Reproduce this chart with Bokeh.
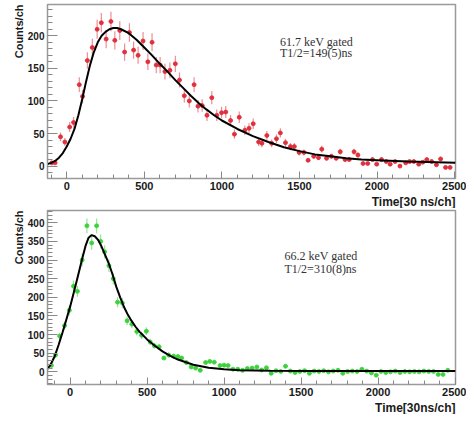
import numpy as np
from bokeh.plotting import figure
from bokeh.layouts import column
from bokeh.models import ColumnDataSource, Range1d, SingleIntervalTicker, Title, Label
from bokeh.embed import file_html
from bokeh.resources import INLINE

# ---------------- data: top panel (61.7 keV gated) ----------------
top_x = [-96, -75, -40, -12, 19, 44, 81, 102, 133, 165, 196, 223, 254, 285, 310, 342,
         373, 404, 431, 460, 492, 523, 550, 577, 602, 633, 665, 700, 727, 758, 790, 821,
         846, 873, 904, 935, 967, 998, 1025, 1056, 1081, 1112, 1148, 1175, 1202, 1237,
         1258, 1290, 1321, 1352, 1377, 1410, 1442, 1467, 1498, 1529, 1556, 1592, 1623,
         1644, 1675, 1706, 1737, 1763, 1794, 1821, 1852, 1877, 1910, 1940, 1971, 1998,
         2029, 2060, 2085, 2117, 2148, 2185, 2210, 2237, 2269, 2295, 2321, 2352, 2383,
         2410, 2442, 2471]
top_y = [5, 5, 45, 37, 60, 67, 125, 107, 162, 182, 210, 220, 195, 222, 193, 208,
         175, 205, 178, 170, 192, 160, 190, 155, 155, 145, 147, 157, 132, 108, 100, 125,
         92, 93, 78, 105, 78, 82, 83, 70, 49, 75, 55, 58, 65, 37,
         35, 47, 35, 42, 51, 36, 30, 30, 21, 21, 9, 15, 13,
         26, 12, 15, 12, 22, 10, 10, 22, 17, 4, 4, 10, 3,
         10, 7, 3, 7, 0, 5, 7, 7, 3, 6, 10, 7, 2,
         11, -2, -2]
top_fit_x = [-125, -100, -75, -50, -25, 0, 25, 50, 75, 100, 125, 150, 175, 200, 225, 250,
             275, 300, 325, 350, 400, 450, 500, 550, 600, 650, 700, 750, 800, 850, 900,
             950, 1000, 1100, 1200, 1300, 1400, 1500, 1600, 1700, 1800, 1900, 2000, 2200,
             2506]
top_fit_y = [3, 5, 8, 13, 20, 30, 42, 57, 78, 103, 130, 155, 175, 190, 200, 206,
             210, 212, 212, 210, 204, 194, 182, 170, 157, 145, 132, 120, 108, 97, 87,
             78, 70, 57, 46, 37, 29, 23, 18, 15, 12, 10, 9, 7, 5]

# ---------------- data: bottom panel (66.2 keV gated) ----------------
bot_x = [-122, -95, -68, -36, -5, 22, 47, 78, 109, 140, 172, 198, 224, 252, 280, 308,
         339, 370, 401, 433, 464, 495, 520, 547, 578, 609, 640, 672, 700, 724, 755, 786,
         815, 845, 880, 907, 936, 974, 1000, 1026, 1058, 1089, 1120, 1151, 1182, 1213,
         1244, 1275, 1306, 1337, 1368, 1399, 1430, 1461, 1492, 1523, 1554, 1585, 1616,
         1647, 1678, 1709, 1740, 1771, 1802, 1833, 1864, 1895, 1926, 1957, 1988, 2019,
         2050, 2081, 2112, 2143, 2174, 2205, 2236, 2267, 2298, 2329, 2360, 2391, 2422,
         2453]
bot_y = [17, 45, 96, 124, 165, 230, 216, 300, 392, 346, 392, 350, 322, 285, 250, 187,
         185, 137, 128, 108, 98, 109, 80, 70, 67, 37, 45, 42, 41, 37, 25, 13,
         10, 4, 25, 28, 26, 17, 18, 17, 7, 7, 4, 9, 10, 13,
         5, 11, -4, 3, 1, 15, 2, -2, 1, 3, -4, 2, 1,
         3, 0, 2, 4, -4, 1, 2, 1, 7, 2, -3, -9, 1,
         -2, 0, 2, -2, 1, 0, 1, 0, 2, 1, 1, -7, -7,
         4]
bot_fit_x = [-147, -130, -100, -75, -50, -25, 0, 25, 50, 75, 100, 120, 140, 160, 180, 200,
             225, 250, 275, 300, 325, 350, 375, 400, 425, 450, 500, 550, 600, 650, 700,
             800, 900, 1000, 1100, 1300, 1600, 2000, 2503]
bot_fit_y = [8, 17, 42, 72, 105, 140, 175, 215, 256, 298, 338, 360, 367, 364, 355, 340,
             316, 292, 262, 228, 200, 174, 153, 136, 121, 108, 87, 70, 55, 43, 33,
             19, 11, 7, 4, 3, 2, 2, 2]

top_text = ["61.7 keV gated", "T1/2=149(5)ns"]
bot_text = ["66.2 keV gated", "T1/2=310(8)ns"]


def panel(x, y, fx, fy, color, xr, yr, xlabel, texts, tx, ty, height, mb_top, mb_bottom,
          mb_left, mb_right):
    p = figure(width=466, height=height, output_backend="svg", toolbar_location=None,
               x_range=Range1d(*xr), y_range=Range1d(*yr),
               min_border_left=mb_left, min_border_right=mb_right,
               min_border_top=mb_top, min_border_bottom=mb_bottom)
    p.xgrid.visible = False
    p.ygrid.visible = False
    p.outline_line_color = "#9a9a9a"
    p.outline_line_width = 1.5
    p.background_fill_color = "white"
    p.border_fill_color = "white"

    xa = np.array(x, dtype=float)
    ya = np.array(y, dtype=float)
    err = np.sqrt(np.maximum(np.abs(ya), 1.0))
    src = ColumnDataSource(dict(x=xa, y=ya, ylo=ya - err, yhi=ya + err,
                                xlo=xa - 13, xhi=xa + 13))
    p.segment(x0="x", y0="ylo", x1="x", y1="yhi", source=src, line_color=color,
              line_alpha=0.55, line_width=1.2)
    p.segment(x0="xlo", y0="y", x1="xhi", y1="y", source=src, line_color=color,
              line_alpha=0.7, line_width=1.2)
    p.scatter(x="x", y="y", source=src, marker="circle", size=4, fill_color=color,
              line_color=color, line_alpha=0.8)
    p.line(fx, fy, line_color="black", line_width=2)

    for ax in (p.xaxis[0], p.yaxis[0]):
        ax.axis_line_color = "#9a9a9a"
        ax.major_tick_line_color = "#888888"
        ax.minor_tick_line_color = "#888888"
        ax.major_tick_out = 0
        ax.minor_tick_out = 0
        ax.major_label_text_font = "Liberation Sans"
        ax.major_label_text_font_style = "bold"
        ax.major_label_text_color = "#1a1a1a"
        ax.major_label_standoff = 3
    p.xaxis.ticker = SingleIntervalTicker(interval=500, num_minor_ticks=5)
    p.yaxis.ticker = SingleIntervalTicker(interval=50, num_minor_ticks=5)
    p.xaxis.major_tick_in = 7
    p.xaxis.minor_tick_in = 4
    p.yaxis.major_tick_in = 10
    p.yaxis.minor_tick_in = 5
    p.xaxis.major_label_text_font_size = "11px"
    p.yaxis.major_label_text_font_size = "10px"

    p.add_layout(Title(text=xlabel, align="right", text_font="Liberation Sans",
                       text_font_style="bold", text_font_size="12px",
                       text_color="#1a1a1a", standoff=0, offset=0), "below")
    p.add_layout(Title(text="Counts/ch", align="right", text_font="Liberation Sans",
                       text_font_style="bold", text_font_size="11px",
                       text_color="#1a1a1a", standoff=0, offset=0), "left")

    for t, yy in zip(texts, ty):
        p.add_layout(Label(x=tx, y=yy, text=t, text_font="Liberation Serif",
                           text_font_size="12px", text_color="#333333",
                           text_baseline="middle", text_align="left"))
    return p


p1 = panel(top_x, top_y, top_fit_x, top_fit_y, "#e0303c", (-124, 2506), (-19, 248),
           "Time[30 ns/ch]", top_text, 1375, [191, 173], 208, 4, 28, 47, 10)
p2 = panel(bot_x, bot_y, bot_fit_x, bot_fit_y, "#3cd23c", (-147, 2503), (-34, 433),
           "Time[30ns/ch]", bot_text, 1392, [310, 276], 206, 2, 28, 44, 11)

layout = column(p1, p2, spacing=0)
open("out.html", "w").write(file_html(layout, INLINE))
